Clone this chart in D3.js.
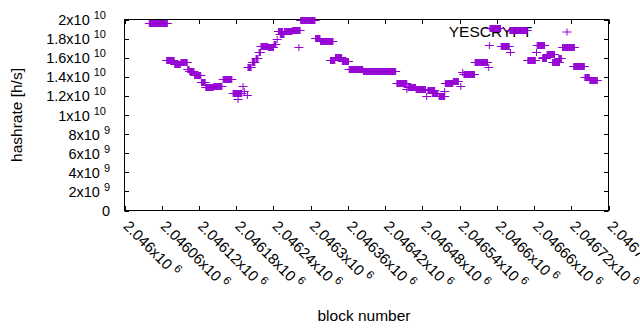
<!DOCTYPE html>
<html>
<head>
  <meta charset="utf-8">
  <style>
    body { margin: 0; background: #fff; }
    svg { display: block; font-family: "Liberation Sans", Arial, sans-serif; }
  </style>
</head>
<body>
  <div id="chart"></div>
  <script src="https://d3js.org/d3.v7.min.js"></script>
  <script>

    // runs of blocks with the same hashrate (one "+" per block)
    var runStart = [2046040, 2046068, 2046081, 2046091, 2046102, 2046105, 2046113, 2046124, 2046131, 2046144,
                    2046159, 2046175, 2046183, 2046191, 2046193, 2046198, 2046199, 2046206, 2046212, 2046217,
                    2046220, 2046232, 2046241, 2046246, 2046248, 2046251, 2046258, 2046271, 2046281, 2046284,
                    2046308, 2046316, 2046332, 2046340, 2046351, 2046362, 2046385, 2046439, 2046455, 2046457,
                    2046470, 2046487, 2046489, 2046496, 2046507, 2046516, 2046517, 2046530, 2046542, 2046545,
                    2046547, 2046565, 2046587, 2046588, 2046589, 2046607, 2046622, 2046621, 2046650, 2046664,
                    2046665, 2046675, 2046674, 2046681, 2046690, 2046700, 2046706, 2046724, 2046742, 2046750]
    var runEnd   = [2046069, 2046080, 2046090, 2046101, 2046104, 2046112, 2046123, 2046130, 2046143, 2046157,
                    2046173, 2046189, 2046183, 2046191, 2046193, 2046198, 2046204, 2046210, 2046215, 2046219,
                    2046231, 2046240, 2046244, 2046246, 2046255, 2046257, 2046270, 2046283, 2046281, 2046307,
                    2046315, 2046336, 2046339, 2046350, 2046361, 2046384, 2046437, 2046455, 2046455, 2046469,
                    2046485, 2046487, 2046500, 2046505, 2046516, 2046516, 2046529, 2046538, 2046542, 2046545,
                    2046564, 2046585, 2046587, 2046588, 2046606, 2046620, 2046622, 2046649, 2046662, 2046664,
                    2046677, 2046675, 2046680, 2046693, 2046701, 2046704, 2046725, 2046741, 2046749, 2046762]
    var runValue = [1.96e10, 1.58e10, 1.53e10, 1.55e10, 1.48e10, 1.457e10, 1.415e10, 1.35e10, 1.29e10, 1.30e10,
                    1.377e10, 1.23e10, 1.17e10, 1.30e10, 1.25e10, 1.21e10, 1.50e10, 1.55e10, 1.60e10, 1.66e10,
                    1.726e10, 1.71e10, 1.74e10, 1.80e10, 1.88e10, 1.85e10, 1.88e10, 1.895e10, 1.71e10, 2.0e10,
                    1.81e10, 1.78e10, 1.575e10, 1.61e10, 1.57e10, 1.478e10, 1.457e10, 1.33e10, 1.27e10, 1.288e10,
                    1.277e10, 1.20e10, 1.265e10, 1.23e10, 1.20e10, 1.25e10, 1.33e10, 1.36e10, 1.30e10, 1.45e10,
                    1.425e10, 1.55e10, 1.50e10, 1.73e10, 1.915e10, 1.72e10, 1.66e10, 1.894e10, 1.58e10, 1.66e10,
                    1.728e10, 1.61e10, 1.60e10, 1.64e10, 1.554e10, 1.60e10, 1.708e10, 1.518e10, 1.40e10, 1.366e10]

    var xTicks = [2046000, 2046060, 2046120, 2046180, 2046240, 2046300, 2046360,
                  2046420, 2046480, 2046540, 2046600, 2046660, 2046720, 2046780]
    var xTickLabels = ["2.046", "2.04606", "2.04612", "2.04618", "2.04624", "2.0463", "2.04636",
                       "2.04642", "2.04648", "2.04654", "2.0466", "2.04666", "2.04672", "2.04678"]
    var xTickExp = "6"

    var yTicks = [0, 2e9, 4e9, 6e9, 8e9, 1e10, 1.2e10, 1.4e10, 1.6e10, 1.8e10, 2e10]
    var yTickLabels = ["0", "2x10", "4x10", "6x10", "8x10", "1x10", "1.2x10", "1.4x10", "1.6x10", "1.8x10", "2x10"]
    var yTickExp = ["", "9", "9", "9", "9", "10", "10", "10", "10", "10", "10"]

    var seriesName = "YESCRYPT"
    var color = "#9400d3"

    var width = 640, height = 330
    var plot = {left: 124.5, right: 608.5, top: 19.5, bottom: 210.5}

    var svg = d3.select("#chart").append("svg")
        .attr("width", width)
        .attr("height", height)

    var x = d3.scaleLinear().domain([2046000, 2046780]).range([plot.left, plot.right])
    var y = d3.scaleLinear().domain([0, 2e10]).range([plot.bottom, plot.top])

    // expand runs into one point per block
    var points = []
    runStart.forEach(function (s, i) {
      for (var b = s; b <= runEnd[i]; b++) points.push({block: b, value: runValue[i]})
    })

    var tick = 4.5

    // y ticks + labels
    yTicks.forEach(function (v, i) {
      var yy = Math.round(y(v)) + 0.5
      svg.append("path").attr("d", "M" + plot.left + "," + yy + "h" + tick + "M" + plot.right + "," + yy + "h" + (-tick))
          .attr("stroke", "#000").attr("fill", "none")
      var t = svg.append("text")
          .attr("x", yTickExp[i] === "10" ? 106 : 110)
          .attr("y", y(v) + 5.5)
          .attr("text-anchor", "end")
          .style("font-size", "14.5px")
      t.append("tspan").text(yTickLabels[i])
      if (yTickExp[i]) {
        t.append("tspan").attr("dx", 4).attr("dy", -6).style("font-size", "11px").text(yTickExp[i])
      }
    })

    // x ticks + rotated labels
    xTicks.forEach(function (v, i) {
      var xx = Math.round(x(v)) + 0.5
      svg.append("path").attr("d", "M" + xx + "," + plot.bottom + "v" + (-tick) + "M" + xx + "," + plot.top + "v" + tick)
          .attr("stroke", "#000").attr("fill", "none")
      var t = svg.append("text")
          .attr("transform", "translate(" + (x(v) - 2) + "," + 227 + ") rotate(45)")
          .style("font-size", "15px")
      t.append("tspan").text(xTickLabels[i] + "x10")
      t.append("tspan").attr("dx", 4).attr("dy", -6).style("font-size", "11.5px").text(xTickExp)
    })

    // frame
    svg.append("rect")
        .attr("x", plot.left).attr("y", plot.top)
        .attr("width", plot.right - plot.left).attr("height", plot.bottom - plot.top)
        .attr("fill", "none").attr("stroke", "#000")

    // axis titles
    svg.append("text")
        .attr("transform", "translate(22," + 115 + ") rotate(-90)")
        .attr("text-anchor", "middle")
        .style("font-size", "15.5px")
        .text("hashrate [h/s]")

    svg.append("text")
        .attr("x", 364).attr("y", 321)
        .attr("text-anchor", "middle")
        .style("font-size", "15.5px")
        .text("block number")

    // key
    svg.append("text")
        .attr("x", 532).attr("y", 37)
        .attr("text-anchor", "end")
        .style("font-size", "15.5px")
        .text(seriesName)

    function cross(px, py) {
      return "M" + (px - 4.5) + "," + py + "h9M" + px + "," + (py - 3.5) + "v7"
    }

    svg.append("path")
        .attr("d", cross(567, 32))
        .attr("stroke", color).attr("fill", "none")

    // data points
    svg.append("g")
        .selectAll("path")
        .data(points)
        .enter().append("path")
        .attr("d", function (d) { return cross(x(d.block), Math.round(y(d.value)) + 0.5) })
        .attr("stroke", color)
        .attr("stroke-width", 1)
        .attr("fill", "none")

  </script>
</body>
</html>
